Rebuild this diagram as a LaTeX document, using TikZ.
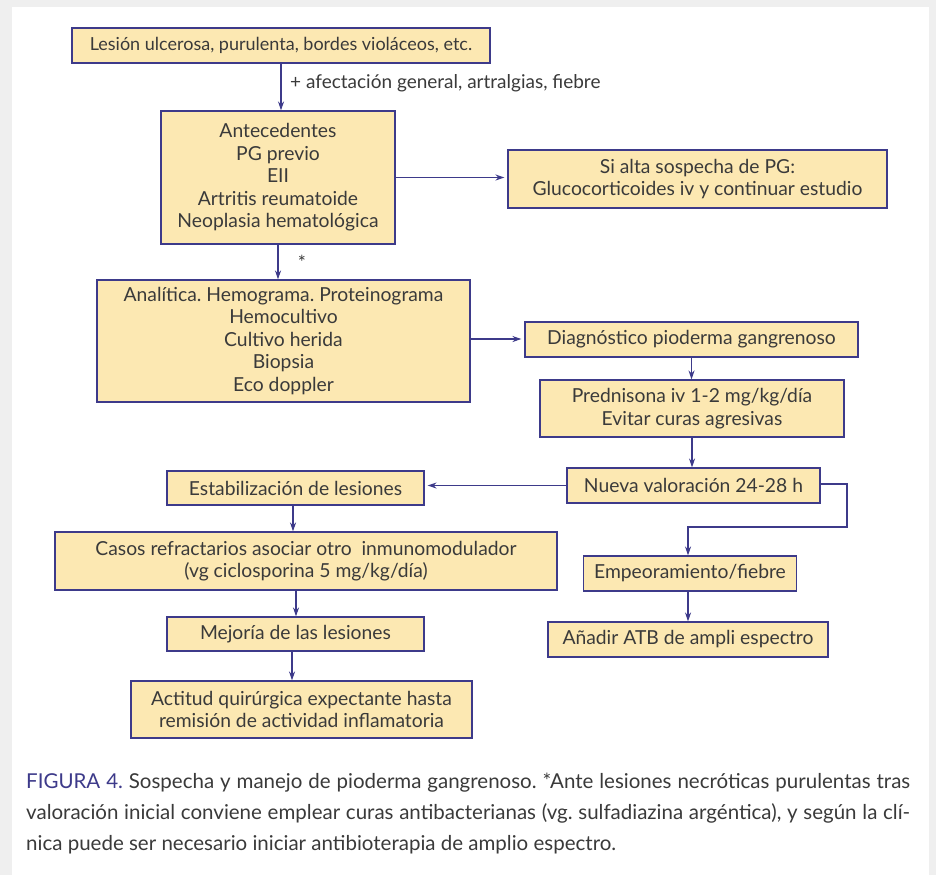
\documentclass[tikz,border=0pt]{standalone}
\usepackage{fontspec}
\setmainfont{Lato}
\usetikzlibrary{arrows.meta}
\definecolor{bdr}{HTML}{3D3A8A}
\definecolor{boxfill}{HTML}{FCE8B2}
\definecolor{txt}{HTML}{3A3A3A}
\definecolor{bggray}{HTML}{EFEFEF}
\frenchspacing
\tikzset{
  box/.style={draw=bdr, fill=boxfill, line width=1.1pt, inner sep=0pt, align=center,
    text=txt, font=\fontsize{19.3}{22.5}\selectfont},
  arr/.style={draw=bdr, line width=1.1pt, -{Stealth[length=9pt,width=6pt]}},
  lbl/.style={text=txt, font=\fontsize{19}{22}\selectfont, inner sep=0pt}
}
\begin{document}
\begin{tikzpicture}[x=1pt,y=-1pt]
\fill[bggray] (0,0) rectangle (936,875);
\fill[white] (12,7) rectangle (929,875);
\useasboundingbox (0,0) rectangle (936,875);

\node[box, minimum width=418, minimum height=35, font=\fontsize{18}{22}\selectfont] (b1) at (281,45.5) {Lesión ulcerosa, purulenta, bordes violáceos, etc.};
\node[box, minimum width=234, minimum height=133] (b2) at (278,177.5) {Antecedentes\\PG previo\\EII\\Artritis reumatoide\\Neoplasia hematológica};
\node[box, minimum width=379, minimum height=58] (b3) at (697.5,179) {Si alta sospecha de PG:\\Glucocorticoides iv y continuar estudio};
\node[box, minimum width=373, minimum height=122] (b4) at (283.5,341) {Analítica. Hemograma. Proteinograma\\Hemocultivo\\Cultivo herida\\Biopsia\\Eco doppler};
\node[box, minimum width=333, minimum height=35] (b5) at (691.5,339.5) {Diagnóstico pioderma gangrenoso};
\node[box, minimum width=304, minimum height=57] (b6) at (692,408.5) {Prednisona iv 1-2 mg/kg/día\\Evitar curas agresivas};
\node[box, minimum width=253, minimum height=35] (b7) at (693.5,485.5) {Nueva valoración 24-28 h};
\node[box, minimum width=257, minimum height=34] (b8) at (295.5,488) {Estabilización de lesiones};
\node[box, minimum width=502, minimum height=58] (b9) at (306,561) {Casos refractarios asociar otro\ \ inmunomodulador\\(vg ciclosporina 5 mg/kg/día)};
\node[box, minimum width=257, minimum height=34] (b10) at (295.5,634) {Mejoría de las lesiones};
\node[box, minimum width=341, minimum height=57] (b11) at (301.5,709.5) {Actitud quirúrgica expectante hasta\\remisión de actividad inflamatoria};
\node[box, minimum width=213, minimum height=35] (b12) at (690,573.5) {Empeoramiento/fiebre};
\node[box, minimum width=280, minimum height=35] (b13) at (688,639.5) {Añadir ATB de ampli espectro};

\coordinate (c1) at (281,63);
\draw[arr] (c1) -- (c1 |- b2.north);
\node[lbl, anchor=west] (l1) at (290,83) {+ afectación general, artralgias, fiebre};

\draw[arr] (b2.east) -- ([xshift=-3pt]b2.east -| b3.west);
\draw[arr] (b2.south) -- (b2.south |- b4.north);
\node[lbl, anchor=center] (star) at (302,262) {*};

\draw[arr] (470,339) coordinate (c4) -- ([xshift=-3pt]c4 -| b5.west);
\draw[arr] (b5.south) -- (b5.south |- b6.north);
\draw[arr] (b6.south) -- (b6.south |- b7.north);
\draw[arr] (b7.west) -- ([xshift=3pt]b7.west -| b8.east);

\coordinate (k1) at (847,484);
\coordinate (k2) at (847,527);
\coordinate (k3) at (688,527);
\draw[arr] (b7.east |- k1) -- (k1) -- (k2) -- (k3) -- (k3 |- b12.north);
\draw[arr] (688,591) coordinate (c12) -- (c12 |- b13.north);

\draw[arr] (293,505) coordinate (c8) -- (c8 |- b9.north);
\draw[arr] (296,590) coordinate (c9) -- (c9 |- b10.north);
\draw[arr] (292,651) coordinate (c10) -- (c10 |- b11.north);

\node[text=txt, anchor=north west, inner sep=0pt, text width=884pt, align=justify,
  font=\fontsize{20.5}{31}\selectfont] (cap) at (26,773)
 {{\color{bdr}FIGURA 4.} Sospecha y manejo de pioderma gangrenoso. *Ante lesiones necróticas purulentas tras\linebreak valoración inicial conviene emplear curas antibacterianas (vg. sulfadiazina argéntica), y según la clí-\linebreak nica puede ser necesario iniciar antibioterapia de amplio espectro.};
\end{tikzpicture}
\end{document}
